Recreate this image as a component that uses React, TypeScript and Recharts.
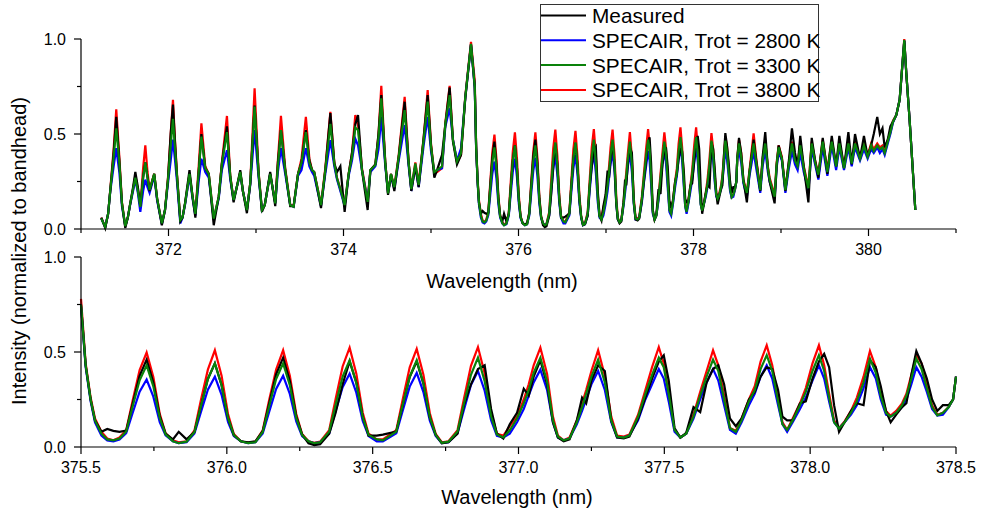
import { LineChart, Line, XAxis, YAxis } from "recharts";

const FONT = '"Liberation Sans", Arial, Helvetica, sans-serif';

// ---- overview panel, left part (371.2 - 375.46 nm) ----
const leftWl = [
  371.232, 371.277, 371.31, 371.335, 371.373, 371.403, 371.438, 371.468, 371.506, 371.535,
  371.563, 371.595, 371.621, 371.65, 371.678, 371.71, 371.735, 371.76, 371.784, 371.837,
  371.87, 371.924, 371.96, 371.994, 372.025, 372.051, 372.075, 372.097, 372.135, 372.16,
  372.19, 372.24, 372.275, 372.307, 372.345, 372.376, 372.42, 372.46, 372.517, 372.574,
  372.61, 372.668, 372.706, 372.744, 372.78, 372.82, 372.85, 372.896, 372.934, 372.984,
  373.03, 373.068, 373.1, 373.162, 373.22, 373.25, 373.285, 373.334, 373.391, 373.43,
  373.48, 373.52, 373.57, 373.61, 373.64, 373.665, 373.743, 373.792, 373.85, 373.895,
  373.926, 373.964, 374.013, 374.059, 374.097, 374.135, 374.166, 374.211, 374.276, 374.307,
  374.364, 374.4, 374.432, 374.478, 374.509, 374.543, 374.581, 374.631, 374.699, 374.745,
  374.775, 374.821, 374.859, 374.916, 374.962, 375.0, 375.038, 375.069, 375.126, 375.164,
  375.213, 375.251, 375.297, 375.343, 375.392, 375.457,
];
const leftMeasured = [
  0.06, 0.005, 0.08, 0.205, 0.4, 0.59, 0.36, 0.135, 0.005, 0.06,
  0.135, 0.22, 0.3, 0.22, 0.12, 0.27, 0.35, 0.27, 0.2, 0.29,
  0.16, 0.02, 0.1, 0.26, 0.5, 0.655, 0.45, 0.28, 0.04, 0.06,
  0.14, 0.31, 0.17, 0.06, 0.3, 0.5, 0.32, 0.29, 0.02, 0.17,
  0.345, 0.54, 0.275, 0.14, 0.22, 0.31, 0.2, 0.083, 0.24, 0.65,
  0.29, 0.09, 0.126, 0.3, 0.12, 0.35, 0.52, 0.31, 0.12, 0.12,
  0.29, 0.35, 0.52, 0.36, 0.31, 0.3, 0.11, 0.31, 0.61, 0.345,
  0.3, 0.33, 0.09, 0.29, 0.4, 0.55, 0.6, 0.31, 0.1, 0.31,
  0.34, 0.5, 0.705, 0.345, 0.18, 0.29, 0.2, 0.38, 0.67, 0.345,
  0.2, 0.33, 0.22, 0.48, 0.705, 0.44, 0.27, 0.31, 0.39, 0.55,
  0.745, 0.46, 0.34, 0.39, 0.69, 0.97,
];
const left2800 = [
  0.055, 0.01, 0.08, 0.2, 0.33, 0.425, 0.3, 0.12, 0.015, 0.06,
  0.13, 0.2, 0.26, 0.19, 0.09, 0.2, 0.26, 0.22, 0.19, 0.28,
  0.15, 0.025, 0.1, 0.24, 0.36, 0.47, 0.36, 0.25, 0.03, 0.06,
  0.13, 0.28, 0.16, 0.07, 0.25, 0.37, 0.3, 0.27, 0.05, 0.16,
  0.31, 0.415, 0.26, 0.15, 0.22, 0.29, 0.2, 0.1, 0.23, 0.52,
  0.27, 0.1, 0.126, 0.29, 0.135, 0.3, 0.425, 0.29, 0.125, 0.117,
  0.28, 0.31, 0.425, 0.33, 0.3, 0.28, 0.12, 0.29, 0.468, 0.33,
  0.26, 0.2, 0.12, 0.28, 0.36, 0.475, 0.44, 0.31, 0.143, 0.3,
  0.33, 0.42, 0.59, 0.33, 0.19, 0.28, 0.21, 0.36, 0.547, 0.33,
  0.2, 0.33, 0.22, 0.44, 0.59, 0.41, 0.3, 0.31, 0.32, 0.54,
  0.635, 0.47, 0.36, 0.425, 0.69, 0.97,
];
const left3300 = [
  0.055, 0.01, 0.08, 0.205, 0.38, 0.53, 0.35, 0.135, 0.015, 0.06,
  0.135, 0.21, 0.27, 0.2, 0.117, 0.27, 0.35, 0.27, 0.205, 0.29,
  0.16, 0.03, 0.1, 0.26, 0.44, 0.58, 0.42, 0.28, 0.047, 0.06,
  0.135, 0.29, 0.17, 0.08, 0.3, 0.486, 0.32, 0.29, 0.055, 0.17,
  0.34, 0.51, 0.275, 0.153, 0.22, 0.3, 0.2, 0.1, 0.24, 0.644,
  0.29, 0.1, 0.126, 0.29, 0.135, 0.33, 0.52, 0.31, 0.126, 0.117,
  0.29, 0.35, 0.51, 0.35, 0.31, 0.3, 0.126, 0.31, 0.553, 0.345,
  0.267, 0.21, 0.126, 0.29, 0.38, 0.535, 0.52, 0.31, 0.143, 0.31,
  0.337, 0.48, 0.688, 0.345, 0.188, 0.29, 0.22, 0.38, 0.626, 0.345,
  0.21, 0.345, 0.232, 0.468, 0.67, 0.433, 0.3, 0.31, 0.33, 0.555,
  0.705, 0.468, 0.355, 0.4, 0.696, 0.975,
];
const left3800 = [
  0.06, 0.01, 0.08, 0.21, 0.42, 0.63, 0.38, 0.14, 0.015, 0.06,
  0.135, 0.21, 0.28, 0.21, 0.12, 0.32, 0.44, 0.3, 0.21, 0.29,
  0.16, 0.03, 0.1, 0.27, 0.5, 0.68, 0.46, 0.29, 0.05, 0.06,
  0.135, 0.29, 0.17, 0.08, 0.33, 0.556, 0.33, 0.29, 0.055, 0.17,
  0.35, 0.595, 0.28, 0.155, 0.22, 0.3, 0.2, 0.1, 0.24, 0.74,
  0.3, 0.1, 0.126, 0.29, 0.14, 0.36, 0.595, 0.32, 0.13, 0.12,
  0.29, 0.37, 0.59, 0.37, 0.31, 0.3, 0.13, 0.32, 0.617, 0.35,
  0.27, 0.21, 0.13, 0.29, 0.4, 0.6, 0.55, 0.32, 0.15, 0.31,
  0.34, 0.5, 0.753, 0.35, 0.19, 0.29, 0.22, 0.39, 0.696, 0.35,
  0.21, 0.35, 0.24, 0.48, 0.731, 0.45, 0.29, 0.3, 0.32, 0.56,
  0.753, 0.47, 0.35, 0.39, 0.7, 0.985,
];

// ---- zoomed range 375.5 - 378.5 nm (used in both panels) ----
const zoomWl = [
  375.5, 375.516, 375.533, 375.548, 375.57, 375.59, 375.611, 375.632, 375.655, 375.677,
  375.701, 375.725, 375.748, 375.77, 375.79, 375.815, 375.835, 375.862, 375.889, 375.911,
  375.935, 375.959, 375.982, 376.004, 376.024, 376.048, 376.073, 376.098, 376.123, 376.145,
  376.169, 376.193, 376.216, 376.238, 376.258, 376.28, 376.3, 376.32, 376.351, 376.373,
  376.397, 376.421, 376.444, 376.466, 376.486, 376.514, 376.535, 376.581, 376.603, 376.627,
  376.651, 376.674, 376.696, 376.716, 376.737, 376.76, 376.791, 376.813, 376.837, 376.861,
  376.884, 376.906, 376.926, 376.948, 376.97, 376.995, 377.018, 377.035, 377.052, 377.075,
  377.098, 377.118, 377.135, 377.155, 377.175, 377.2, 377.218, 377.232, 377.25, 377.273,
  377.296, 377.318, 377.338, 377.361, 377.38, 377.41, 377.435, 377.458, 377.481, 377.498,
  377.515, 377.535, 377.555, 377.575, 377.6, 377.623, 377.645, 377.667, 377.685, 377.705,
  377.725, 377.745, 377.765, 377.79, 377.81, 377.83, 377.851, 377.87, 377.89, 377.905,
  377.921, 377.94, 377.965, 377.985, 378.008, 378.03, 378.048, 378.065, 378.082, 378.099,
  378.118, 378.14, 378.16, 378.183, 378.205, 378.225, 378.242, 378.26, 378.276, 378.295,
  378.315, 378.33, 378.347, 378.364, 378.382, 378.4, 378.418, 378.436, 378.455, 378.475,
  378.49, 378.5,
];
const zoomMeasured = [
  0.75, 0.43, 0.25, 0.14, 0.08, 0.095, 0.085, 0.08, 0.086, 0.226,
  0.375, 0.46, 0.34, 0.163, 0.07, 0.04, 0.08, 0.04, 0.079, 0.215,
  0.358, 0.44, 0.325, 0.153, 0.063, 0.03, 0.025, 0.03, 0.083, 0.228,
  0.382, 0.47, 0.347, 0.162, 0.066, 0.02, 0.01, 0.015, 0.07, 0.18,
  0.33, 0.45, 0.34, 0.16, 0.06, 0.06, 0.065, 0.081, 0.22, 0.368,
  0.45, 0.333, 0.156, 0.064, 0.02, 0.025, 0.07, 0.22, 0.33, 0.41,
  0.43, 0.2, 0.07, 0.045, 0.12, 0.18, 0.307, 0.27, 0.37, 0.456,
  0.33, 0.13, 0.05, 0.03, 0.04, 0.14, 0.26, 0.23, 0.35, 0.43,
  0.4, 0.14, 0.05, 0.045, 0.055, 0.15, 0.26, 0.36, 0.45, 0.483,
  0.35, 0.1, 0.05, 0.075, 0.21, 0.184, 0.34, 0.41, 0.43, 0.33,
  0.15, 0.11, 0.15, 0.25, 0.29, 0.37, 0.42, 0.41, 0.3, 0.16,
  0.14, 0.14, 0.23, 0.24, 0.36, 0.45, 0.49, 0.42, 0.22, 0.08,
  0.13, 0.19, 0.23, 0.22, 0.456, 0.42, 0.32, 0.19, 0.13, 0.17,
  0.21, 0.23, 0.38, 0.505, 0.44, 0.36, 0.25, 0.19, 0.22, 0.22,
  0.25, 0.37,
];
const zoom2800 = [
  0.74, 0.42, 0.24, 0.13, 0.06, 0.035, 0.03, 0.04, 0.073, 0.179,
  0.291, 0.355, 0.265, 0.131, 0.061, 0.03, 0.02, 0.025, 0.071, 0.183,
  0.302, 0.37, 0.275, 0.132, 0.057, 0.03, 0.02, 0.025, 0.071, 0.185,
  0.306, 0.375, 0.279, 0.134, 0.058, 0.03, 0.02, 0.025, 0.072, 0.19,
  0.315, 0.386, 0.286, 0.137, 0.058, 0.03, 0.03, 0.072, 0.191, 0.318,
  0.39, 0.289, 0.138, 0.058, 0.02, 0.025, 0.073, 0.196, 0.326, 0.4,
  0.296, 0.141, 0.059, 0.05, 0.07, 0.13, 0.2, 0.27, 0.34, 0.407,
  0.3, 0.13, 0.05, 0.035, 0.045, 0.12, 0.19, 0.25, 0.33, 0.4,
  0.3, 0.13, 0.05, 0.05, 0.06, 0.14, 0.25, 0.33, 0.41, 0.36,
  0.24, 0.08, 0.05, 0.07, 0.15, 0.25, 0.34, 0.41, 0.35, 0.22,
  0.09, 0.07, 0.13, 0.22, 0.28, 0.37, 0.43, 0.36, 0.22, 0.12,
  0.08, 0.13, 0.2, 0.26, 0.35, 0.43, 0.36, 0.24, 0.13, 0.097,
  0.13, 0.17, 0.22, 0.31, 0.42, 0.36, 0.25, 0.17, 0.16, 0.18,
  0.21, 0.25, 0.33, 0.42, 0.37, 0.29, 0.2, 0.165, 0.17, 0.21,
  0.25, 0.37,
];
const zoom3300 = [
  0.75, 0.43, 0.25, 0.14, 0.07, 0.04, 0.035, 0.045, 0.082, 0.213,
  0.351, 0.43, 0.319, 0.153, 0.067, 0.03, 0.02, 0.028, 0.079, 0.215,
  0.358, 0.44, 0.325, 0.153, 0.063, 0.03, 0.02, 0.025, 0.079, 0.215,
  0.358, 0.44, 0.325, 0.153, 0.063, 0.03, 0.02, 0.025, 0.081, 0.222,
  0.37, 0.456, 0.336, 0.157, 0.064, 0.04, 0.035, 0.081, 0.222, 0.37,
  0.456, 0.336, 0.157, 0.064, 0.022, 0.028, 0.082, 0.228, 0.38, 0.47,
  0.346, 0.162, 0.066, 0.05, 0.088, 0.15, 0.23, 0.3, 0.39, 0.47,
  0.345, 0.14, 0.055, 0.035, 0.045, 0.13, 0.21, 0.28, 0.37, 0.46,
  0.34, 0.14, 0.055, 0.05, 0.06, 0.16, 0.28, 0.38, 0.47, 0.42,
  0.28, 0.09, 0.05, 0.07, 0.16, 0.27, 0.37, 0.46, 0.4, 0.25,
  0.1, 0.08, 0.14, 0.24, 0.3, 0.41, 0.483, 0.4, 0.24, 0.12,
  0.09, 0.14, 0.22, 0.29, 0.4, 0.483, 0.4, 0.26, 0.13, 0.097,
  0.13, 0.18, 0.24, 0.34, 0.465, 0.39, 0.27, 0.18, 0.16, 0.18,
  0.22, 0.27, 0.36, 0.465, 0.41, 0.31, 0.21, 0.167, 0.18, 0.21,
  0.25, 0.37,
];
const zoom3800 = [
  0.78, 0.44, 0.26, 0.15, 0.08, 0.045, 0.035, 0.05, 0.09, 0.243,
  0.405, 0.497, 0.368, 0.174, 0.072, 0.035, 0.025, 0.03, 0.087, 0.246,
  0.407, 0.509, 0.375, 0.174, 0.068, 0.03, 0.022, 0.028, 0.087, 0.246,
  0.407, 0.509, 0.375, 0.174, 0.068, 0.03, 0.022, 0.028, 0.089, 0.253,
  0.424, 0.523, 0.386, 0.18, 0.07, 0.04, 0.04, 0.088, 0.25, 0.419,
  0.516, 0.381, 0.178, 0.069, 0.025, 0.03, 0.089, 0.254, 0.427, 0.526,
  0.388, 0.181, 0.07, 0.06, 0.11, 0.16, 0.25, 0.33, 0.43, 0.523,
  0.385, 0.16, 0.06, 0.035, 0.05, 0.14, 0.23, 0.3, 0.4, 0.51,
  0.375, 0.16, 0.06, 0.055, 0.065, 0.17, 0.3, 0.42, 0.526, 0.44,
  0.29, 0.09, 0.05, 0.07, 0.17, 0.29, 0.4, 0.509, 0.43, 0.27,
  0.1, 0.085, 0.15, 0.25, 0.32, 0.45, 0.535, 0.43, 0.26, 0.13,
  0.09, 0.15, 0.23, 0.31, 0.44, 0.535, 0.43, 0.28, 0.14, 0.1,
  0.135, 0.19, 0.26, 0.37, 0.505, 0.42, 0.29, 0.19, 0.165, 0.19,
  0.23, 0.28, 0.38, 0.483, 0.44, 0.33, 0.22, 0.17, 0.18, 0.21,
  0.25, 0.37,
];

// ---- overview panel, right part (378.52 - 380.54 nm) ----
const rightWl = [
  378.52, 378.545, 378.57, 378.61, 378.64, 378.687, 378.72, 378.763, 378.79, 378.82,
  378.85, 378.87, 378.927, 378.95, 378.973, 379.01, 379.05, 379.09, 379.125, 379.16,
  379.19, 379.22, 379.26, 379.313, 379.351, 379.39, 379.427, 379.477, 379.53, 379.58,
  379.63, 379.667, 379.72, 379.77, 379.808, 379.846, 379.903, 379.948, 379.99, 380.03,
  380.06, 380.1, 380.13, 380.16, 380.185, 380.22, 380.25, 380.28, 380.318, 380.356,
  380.409, 380.432, 380.47, 380.535,
];
const rightMeasured = [
  0.48, 0.4, 0.26, 0.14, 0.3, 0.47, 0.35, 0.2, 0.38, 0.51,
  0.32, 0.25, 0.135, 0.33, 0.44, 0.37, 0.2, 0.36, 0.53, 0.4,
  0.33, 0.49, 0.33, 0.14, 0.48, 0.36, 0.27, 0.48, 0.29, 0.49,
  0.33, 0.49, 0.32, 0.51, 0.34, 0.5, 0.37, 0.49, 0.38, 0.44,
  0.5, 0.59, 0.5, 0.53, 0.43, 0.47, 0.54, 0.565, 0.6, 0.68,
  0.99, 0.82, 0.573, 0.1,
];
const right2800 = [
  0.41, 0.35, 0.24, 0.17, 0.28, 0.407, 0.31, 0.19, 0.33, 0.415,
  0.3, 0.25, 0.16, 0.32, 0.407, 0.36, 0.19, 0.32, 0.41, 0.34,
  0.31, 0.4, 0.3, 0.2, 0.42, 0.34, 0.26, 0.43, 0.28, 0.44,
  0.31, 0.43, 0.31, 0.43, 0.33, 0.43, 0.36, 0.42, 0.37, 0.42,
  0.4, 0.43, 0.4, 0.42, 0.39, 0.45, 0.5, 0.56, 0.6, 0.68,
  0.99, 0.82, 0.573, 0.1,
];
const right3300 = [
  0.45, 0.38, 0.25, 0.19, 0.3, 0.45, 0.34, 0.205, 0.36, 0.45,
  0.32, 0.26, 0.17, 0.34, 0.43, 0.37, 0.205, 0.34, 0.45, 0.36,
  0.33, 0.44, 0.32, 0.215, 0.45, 0.35, 0.286, 0.46, 0.3, 0.46,
  0.328, 0.45, 0.32, 0.45, 0.345, 0.45, 0.37, 0.44, 0.38, 0.44,
  0.41, 0.44, 0.42, 0.43, 0.4, 0.46, 0.51, 0.565, 0.6, 0.68,
  0.995, 0.82, 0.573, 0.1,
];
const right3800 = [
  0.47, 0.4, 0.26, 0.19, 0.31, 0.503, 0.36, 0.21, 0.37, 0.46,
  0.33, 0.27, 0.18, 0.35, 0.44, 0.38, 0.21, 0.35, 0.46, 0.37,
  0.34, 0.45, 0.33, 0.22, 0.46, 0.36, 0.29, 0.47, 0.31, 0.47,
  0.33, 0.46, 0.33, 0.46, 0.35, 0.46, 0.38, 0.45, 0.39, 0.45,
  0.42, 0.45, 0.43, 0.44, 0.41, 0.47, 0.51, 0.57, 0.6, 0.68,
  1.0, 0.82, 0.573, 0.1,
];

const topTicks = [371, 372, 373, 374, 375, 376, 377, 378, 379, 380, 381];
const bottomTicks = [375.5, 375.75, 376, 376.25, 376.5, 376.75, 377, 377.25, 377.5, 377.75, 378, 378.25, 378.5];
const yTicks = [0, 0.25, 0.5, 0.75, 1];

const series = [
  { key: "t3800", name: "SPECAIR, Trot = 3800 K", color: "#ff0000" },
  { key: "t2800", name: "SPECAIR, Trot = 2800 K", color: "#0000ff" },
  { key: "measured", name: "Measured", color: "#000000" },
  { key: "t3300", name: "SPECAIR, Trot = 3300 K", color: "#0a820a" },
];
const legendOrder = ["measured", "t2800", "t3300", "t3800"];

const toRows = (wl: number[], m: number[], b: number[], g: number[], r: number[]) =>
  wl.map((w, i) => ({ wl: w, measured: m[i], t2800: b[i], t3300: g[i], t3800: r[i] }));

const zoomRows = toRows(zoomWl, zoomMeasured, zoom2800, zoom3300, zoom3800);
const fullRows = [
  ...toRows(leftWl, leftMeasured, left2800, left3300, left3800),
  ...zoomRows,
  ...toRows(rightWl, rightMeasured, right2800, right3300, right3800),
];

const xTick = (isMajor: (v: number) => boolean, fmt: (v: number) => string) => (props: any) => {
  const { x, y, payload } = props;
  const v = payload.value;
  const major = isMajor(v);
  return (
    <g>
      <line x1={x} x2={x} y1={y} y2={y + (major ? 7 : 4)} stroke="#000" strokeWidth={1.2} />
      {major && (
        <text x={x} y={y + 15} dy="0.71em" textAnchor="middle" fontSize={16} fontFamily={FONT} fill="#000">
          {fmt(v)}
        </text>
      )}
    </g>
  );
};

const yTick = (props: any) => {
  const { x, y, payload } = props;
  const v = payload.value;
  const major = Math.abs(v * 2 - Math.round(v * 2)) < 1e-6;
  return (
    <g>
      <line x1={x - (major ? 7 : 4)} x2={x} y1={y} y2={y} stroke="#000" strokeWidth={1.2} />
      {major && (
        <text x={x - 15} y={y} dy="0.355em" textAnchor="end" fontSize={16} fontFamily={FONT} fill="#000">
          {v.toFixed(1)}
        </text>
      )}
    </g>
  );
};

function Panel({ data, domain, ticks, tick }: any) {
  return (
    <LineChart width={981} height={260} data={data} margin={{ top: 39, right: 25, left: 0, bottom: 0 }}>
      <XAxis
        type="number"
        dataKey="wl"
        domain={domain}
        ticks={ticks}
        interval={0}
        tick={tick}
        tickLine={false}
        tickSize={0}
        tickMargin={0}
        height={31}
        axisLine={{ stroke: "#000", strokeWidth: 1.2 }}
      />
      <YAxis
        type="number"
        domain={[0, 1]}
        ticks={yTicks}
        interval={0}
        tick={yTick}
        tickLine={false}
        tickSize={0}
        tickMargin={0}
        width={81}
        axisLine={{ stroke: "#000", strokeWidth: 1.2 }}
      />
      {series.map((s) => (
        <Line
          key={s.key}
          type="linear"
          dataKey={s.key}
          stroke={s.color}
          strokeWidth={2.2}
          dot={false}
          isAnimationActive={false}
        />
      ))}
    </LineChart>
  );
}

export default function App() {
  const topTick = xTick((v) => Math.round(v) % 2 === 0, (v) => String(v));
  const bottomTick = xTick((v) => Math.abs(v * 2 - Math.round(v * 2)) < 1e-6, (v) => v.toFixed(1));
  const legendRows = legendOrder.map((k) => series.find((s) => s.key === k)!);

  return (
    <div style={{ position: "absolute", left: 0, top: 0, width: 981, height: 513, background: "#fff" }}>
      <div style={{ position: "absolute", left: 0, top: 0 }}>
        <Panel data={fullRows} domain={[371, 381]} ticks={topTicks} tick={topTick} />
      </div>
      <div style={{ position: "absolute", left: 0, top: 218 }}>
        <Panel data={zoomRows} domain={[375.5, 378.5]} ticks={bottomTicks} tick={bottomTick} />
      </div>
      <svg width={981} height={513} style={{ position: "absolute", left: 0, top: 0, pointerEvents: "none" }}>
        <text
          transform="translate(19,251) rotate(-90)"
          textAnchor="middle"
          dominantBaseline="central"
          fontSize={20}
          fontFamily={FONT}
          fill="#000"
        >
          Intensity (normalized to bandhead)
        </text>
        <text x={502} y={281} textAnchor="middle" dominantBaseline="central" fontSize={20} fontFamily={FONT} fill="#000">
          Wavelength (nm)
        </text>
        <text x={517} y={497} textAnchor="middle" dominantBaseline="central" fontSize={20} fontFamily={FONT} fill="#000">
          Wavelength (nm)
        </text>
        <rect x={540.5} y={4.5} width={278} height={97} fill="#fff" stroke="#333" strokeWidth={1} />
        {legendRows.map((s, i) => {
          const cy = 15.5 + i * 24.8;
          return (
            <g key={s.key}>
              <line x1={541} x2={586} y1={cy} y2={cy} stroke={s.color} strokeWidth={2} />
              <text x={592} y={cy} dominantBaseline="central" fontSize={20.8} fontFamily={FONT} fill="#000">
                {s.name}
              </text>
            </g>
          );
        })}
      </svg>
    </div>
  );
}
